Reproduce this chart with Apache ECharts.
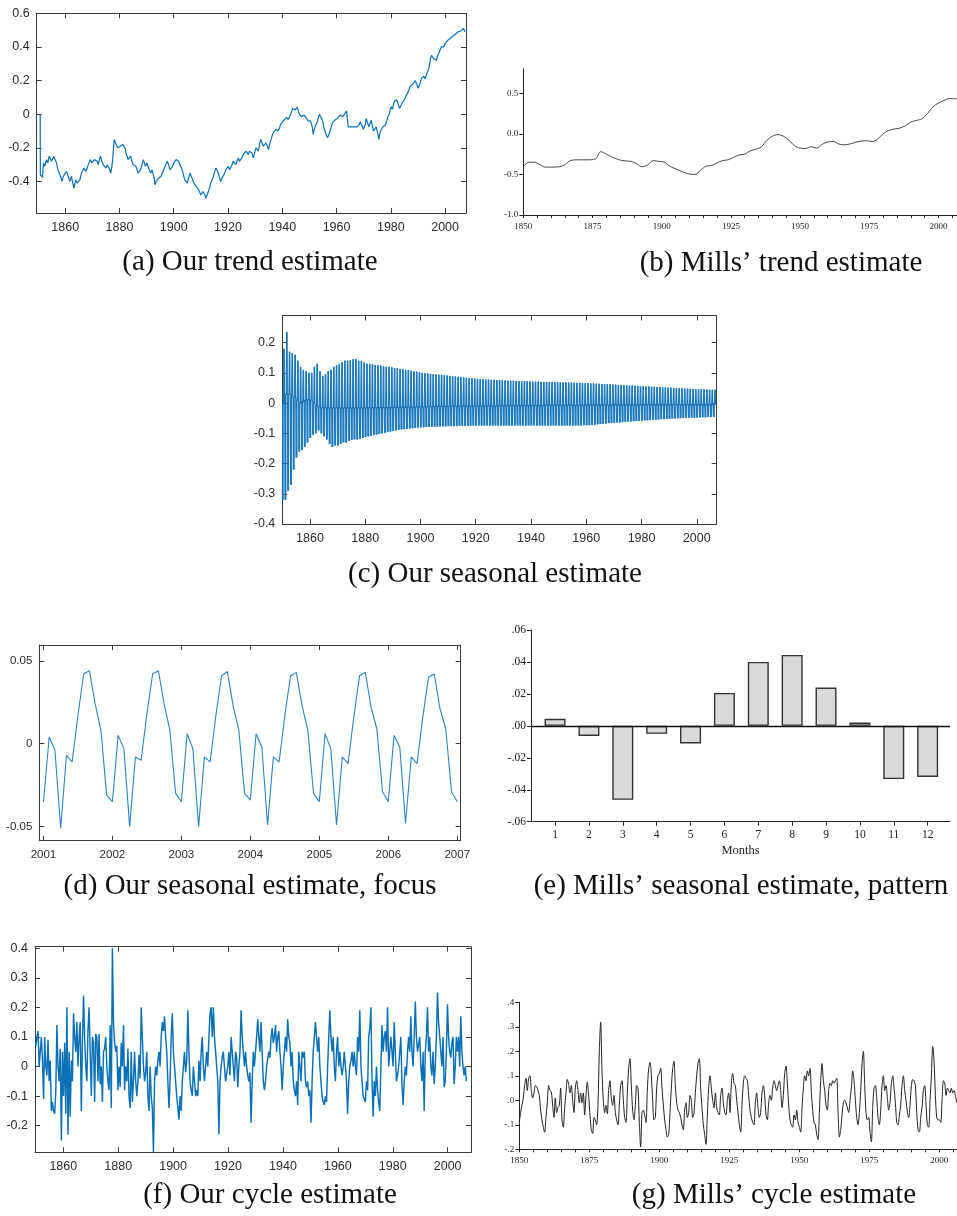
<!DOCTYPE html>
<html><head><meta charset="utf-8">
<script src="https://cdn.jsdelivr.net/npm/echarts@6/dist/echarts.min.js"></script>
<style>html,body{margin:0;padding:0;background:#fff}#c{width:957px;height:1216px}</style>
</head><body><div id="c"></div>
<script>
// ---------- (a) Our trend estimate ----------
const trendYears = [1850.78,1850.85,1851.27,1851.64,1852.0,1852.5,1853.1,1853.6,1854.1,1854.96,1855.8,1856.3,1856.8,1857.3,1857.8,1858.3,1858.8,1859.3,1859.9,1860.5,1861.1,1861.7,1862.3,1862.8,1863.2,1863.9,1864.4,1864.8,1865.4,1866.0,1866.5,1866.9,1867.6,1868.1,1868.5,1868.9,1869.3,1869.8,1870.3,1870.8,1871.3,1871.8,1872.2,1872.6,1873.0,1873.5,1874.0,1874.5,1875.0,1875.5,1875.9,1876.4,1876.8,1877.2,1877.5,1877.8,1878.1,1878.5,1878.9,1879.4,1879.9,1880.3,1880.8,1881.2,1881.6,1882.0,1882.4,1882.8,1883.2,1883.6,1884.1,1884.6,1885.1,1885.6,1886.1,1886.5,1886.9,1887.3,1887.8,1888.3,1888.8,1889.2,1889.6,1890.1,1890.6,1891.0,1891.5,1892.0,1892.4,1892.8,1893.1,1893.5,1893.9,1894.4,1894.9,1895.3,1895.8,1896.3,1896.8,1897.2,1897.6,1898.1,1898.6,1899.1,1899.6,1900.0,1900.4,1900.9,1901.3,1901.8,1902.3,1902.8,1903.3,1903.7,1904.1,1904.6,1905.0,1905.5,1906.0,1906.5,1907.0,1907.4,1907.8,1908.3,1908.7,1909.2,1909.7,1910.0,1910.4,1910.8,1911.1,1911.5,1911.9,1912.3,1912.7,1913.2,1913.6,1914.1,1914.6,1915.1,1915.6,1916.0,1916.4,1916.9,1917.3,1917.8,1918.3,1918.8,1919.2,1919.7,1920.1,1920.6,1921.0,1921.5,1921.9,1922.4,1922.9,1923.3,1923.8,1924.2,1924.7,1925.1,1925.6,1926.1,1926.6,1927.0,1927.5,1927.9,1928.3,1928.8,1929.3,1929.8,1930.3,1930.7,1931.2,1931.6,1932.0,1932.5,1933.0,1933.5,1934.0,1934.5,1934.9,1935.3,1935.7,1936.2,1936.7,1937.2,1937.7,1938.1,1938.5,1939.0,1939.4,1939.9,1940.4,1940.9,1941.4,1941.8,1942.2,1942.7,1943.1,1943.5,1943.8,1944.2,1944.7,1945.1,1945.5,1945.9,1946.3,1946.7,1947.1,1947.6,1948.0,1948.5,1949.0,1949.5,1950.0,1950.4,1950.8,1951.1,1951.4,1951.8,1952.1,1952.5,1952.9,1953.3,1953.7,1954.1,1954.5,1955.0,1955.4,1955.8,1956.1,1956.4,1956.7,1957.2,1957.6,1958.0,1958.5,1959.0,1959.4,1959.9,1960.3,1960.8,1961.3,1961.8,1962.3,1962.7,1963.1,1963.4,1963.7,1964.0,1964.3,1964.7,1965.0,1965.5,1966.0,1966.5,1967.0,1967.5,1967.9,1968.3,1968.7,1969.1,1969.5,1969.9,1970.3,1970.6,1970.9,1971.4,1971.9,1972.3,1972.8,1973.2,1973.6,1974.1,1974.6,1975.1,1975.6,1975.9,1976.2,1976.7,1977.1,1977.6,1978.0,1978.5,1978.9,1979.4,1979.8,1980.2,1980.6,1981.0,1981.4,1981.8,1982.2,1982.7,1983.2,1983.7,1984.1,1984.6,1985.1,1985.6,1986.1,1986.6,1987.1,1987.6,1988.1,1988.6,1989.0,1989.5,1990.0,1990.5,1990.9,1991.3,1991.8,1992.2,1992.7,1993.2,1993.6,1994.1,1994.6,1995.0,1995.4,1995.8,1996.3,1996.8,1997.2,1997.6,1998.1,1998.6,1999.0,1999.5,2000.0,2000.5,2001.0,2001.5,2001.9,2002.4,2002.9,2003.3,2003.8,2004.3,2004.8,2005.3,2005.8,2006.3,2006.8,2007.3];
const trendVals = [0.0,-0.36,-0.37,-0.375,-0.29,-0.31,-0.27,-0.29,-0.25,-0.28,-0.25,-0.27,-0.29,-0.33,-0.35,-0.37,-0.40,-0.37,-0.36,-0.34,-0.37,-0.40,-0.37,-0.41,-0.44,-0.39,-0.41,-0.42,-0.39,-0.35,-0.34,-0.32,-0.34,-0.32,-0.30,-0.29,-0.27,-0.29,-0.28,-0.27,-0.26,-0.28,-0.30,-0.27,-0.25,-0.28,-0.30,-0.31,-0.32,-0.30,-0.31,-0.33,-0.35,-0.31,-0.27,-0.20,-0.15,-0.17,-0.18,-0.20,-0.21,-0.19,-0.20,-0.18,-0.17,-0.20,-0.23,-0.25,-0.27,-0.26,-0.25,-0.28,-0.30,-0.29,-0.31,-0.33,-0.35,-0.34,-0.33,-0.30,-0.27,-0.29,-0.31,-0.29,-0.30,-0.33,-0.35,-0.33,-0.32,-0.38,-0.42,-0.40,-0.40,-0.38,-0.39,-0.37,-0.35,-0.33,-0.31,-0.30,-0.28,-0.30,-0.33,-0.32,-0.31,-0.29,-0.28,-0.27,-0.26,-0.28,-0.29,-0.32,-0.34,-0.37,-0.39,-0.40,-0.41,-0.38,-0.35,-0.37,-0.39,-0.41,-0.42,-0.43,-0.44,-0.45,-0.46,-0.48,-0.49,-0.46,-0.45,-0.48,-0.50,-0.48,-0.47,-0.44,-0.41,-0.39,-0.37,-0.34,-0.32,-0.33,-0.35,-0.38,-0.40,-0.38,-0.37,-0.35,-0.33,-0.32,-0.31,-0.33,-0.32,-0.30,-0.28,-0.29,-0.30,-0.28,-0.26,-0.28,-0.29,-0.26,-0.24,-0.23,-0.22,-0.23,-0.24,-0.22,-0.21,-0.23,-0.26,-0.23,-0.20,-0.21,-0.22,-0.18,-0.15,-0.17,-0.19,-0.18,-0.17,-0.19,-0.21,-0.18,-0.16,-0.13,-0.11,-0.10,-0.09,-0.09,-0.10,-0.08,-0.06,-0.05,-0.04,-0.03,-0.02,-0.025,-0.03,-0.015,0.0,0.02,0.035,0.03,0.025,0.03,0.04,0.02,0.0,-0.01,-0.015,-0.01,-0.005,-0.015,-0.025,-0.04,-0.05,-0.04,-0.035,-0.08,-0.12,-0.09,-0.075,-0.06,-0.045,-0.02,0.0,-0.01,-0.025,-0.05,-0.085,-0.10,-0.12,-0.13,-0.14,-0.12,-0.10,-0.08,-0.05,-0.04,-0.035,-0.03,-0.025,-0.015,-0.005,-0.01,-0.015,-0.005,0.005,0.015,0.02,-0.03,-0.075,-0.07,-0.065,-0.075,-0.085,-0.075,-0.065,-0.075,-0.085,-0.065,-0.045,-0.06,-0.075,-0.09,-0.10,-0.06,-0.025,-0.05,-0.075,-0.055,-0.035,-0.07,-0.10,-0.09,-0.075,-0.11,-0.15,-0.12,-0.10,-0.09,-0.075,-0.07,-0.065,-0.04,-0.015,0.0,0.03,0.045,0.03,0.06,0.08,0.07,0.085,0.06,0.035,0.05,0.065,0.075,0.09,0.11,0.115,0.14,0.165,0.17,0.18,0.19,0.20,0.18,0.155,0.17,0.19,0.215,0.22,0.225,0.21,0.24,0.255,0.28,0.33,0.35,0.34,0.33,0.34,0.32,0.345,0.36,0.38,0.40,0.41,0.40,0.42,0.43,0.44,0.445,0.45,0.46,0.465,0.47,0.475,0.48,0.49,0.485,0.495,0.50,0.51,0.49];

// ---------- (b) Mills' trend estimate ----------
const millsTrendYears = [1850,1852,1854,1856,1858,1860,1863,1865,1867,1870,1873,1876,1878,1880,1883,1886,1889,1891,1893,1895,1897,1899,1901,1903,1906,1908,1910,1912,1914,1916,1918,1920,1922,1924,1926,1928,1930,1932,1934,1936,1938,1940,1942,1944,1946,1948,1950,1952,1954,1956,1958,1960,1962,1964,1966,1968,1970,1972,1974,1976,1978,1980,1982,1984,1986,1988,1990,1992,1994,1996,1998,2000,2002,2004,2006.7];
const millsTrendVals = [-0.405,-0.35,-0.35,-0.38,-0.41,-0.41,-0.405,-0.38,-0.33,-0.32,-0.32,-0.31,-0.22,-0.25,-0.30,-0.33,-0.34,-0.37,-0.405,-0.38,-0.33,-0.34,-0.35,-0.40,-0.445,-0.475,-0.495,-0.50,-0.45,-0.40,-0.39,-0.36,-0.33,-0.32,-0.29,-0.26,-0.25,-0.21,-0.19,-0.16,-0.08,-0.03,-0.01,-0.03,-0.08,-0.145,-0.175,-0.18,-0.16,-0.175,-0.13,-0.10,-0.095,-0.125,-0.135,-0.125,-0.105,-0.09,-0.085,-0.095,-0.065,0.0,0.04,0.06,0.07,0.10,0.145,0.165,0.185,0.25,0.33,0.38,0.41,0.435,0.43];

// ---------- (c) Our seasonal estimate: yearly high / low / centre, 1850..2006 ----------
const seasFirstYear = 1850;
const seasHi = [0.18,0.235,0.17,0.165,0.16,0.14,0.12,0.11,0.105,0.10,
0.10,0.12,0.13,0.105,0.09,0.095,0.105,0.11,0.12,0.125,
0.13,0.135,0.14,0.14,0.142,0.145,0.145,0.14,0.14,0.135,
0.13,0.13,0.128,0.126,0.125,0.124,0.122,0.12,0.12,0.118,
0.116,0.115,0.113,0.112,0.11,0.109,0.107,0.105,0.104,0.102,
0.10,0.099,0.098,0.097,0.096,0.095,0.094,0.093,0.092,0.091,
0.09,0.089,0.088,0.087,0.086,0.085,0.084,0.083,0.082,0.081,
0.08,0.079,0.079,0.078,0.078,0.077,0.077,0.076,0.076,0.075,
0.075,0.074,0.074,0.074,0.073,0.073,0.073,0.072,0.072,0.072,
0.071,0.071,0.071,0.07,0.07,0.07,0.07,0.069,0.069,0.069,
0.069,0.068,0.068,0.068,0.068,0.067,0.067,0.067,0.066,0.066,
0.066,0.065,0.065,0.064,0.064,0.063,0.063,0.062,0.062,0.061,
0.061,0.06,0.06,0.059,0.059,0.058,0.058,0.057,0.057,0.056,
0.056,0.055,0.055,0.054,0.054,0.053,0.053,0.052,0.052,0.051,
0.051,0.05,0.05,0.049,0.049,0.048,0.048,0.047,0.047,0.046,
0.046,0.046,0.045,0.045,0.045,0.044,0.044];
const seasLo = [-0.32,-0.32,-0.29,-0.27,-0.22,-0.18,-0.16,-0.155,-0.145,-0.13,
-0.115,-0.105,-0.10,-0.09,-0.10,-0.11,-0.12,-0.135,-0.145,-0.14,
-0.14,-0.135,-0.13,-0.13,-0.125,-0.122,-0.12,-0.12,-0.118,-0.115,
-0.112,-0.11,-0.108,-0.106,-0.104,-0.102,-0.10,-0.098,-0.096,-0.094,
-0.092,-0.09,-0.088,-0.087,-0.086,-0.085,-0.084,-0.083,-0.082,-0.081,
-0.08,-0.08,-0.079,-0.079,-0.078,-0.078,-0.078,-0.077,-0.077,-0.077,
-0.076,-0.076,-0.076,-0.076,-0.075,-0.075,-0.075,-0.075,-0.075,-0.074,
-0.074,-0.074,-0.074,-0.074,-0.074,-0.074,-0.074,-0.074,-0.074,-0.074,
-0.074,-0.074,-0.074,-0.074,-0.074,-0.074,-0.074,-0.074,-0.074,-0.074,
-0.074,-0.074,-0.074,-0.074,-0.074,-0.074,-0.074,-0.074,-0.074,-0.074,
-0.074,-0.074,-0.074,-0.074,-0.074,-0.074,-0.074,-0.074,-0.074,-0.073,
-0.073,-0.073,-0.072,-0.071,-0.07,-0.069,-0.068,-0.067,-0.066,-0.066,
-0.065,-0.064,-0.064,-0.063,-0.062,-0.061,-0.061,-0.06,-0.059,-0.059,
-0.058,-0.057,-0.057,-0.056,-0.055,-0.055,-0.054,-0.053,-0.053,-0.052,
-0.052,-0.051,-0.051,-0.05,-0.05,-0.049,-0.049,-0.049,-0.048,-0.048,
-0.048,-0.047,-0.047,-0.047,-0.046,-0.046,-0.046];
const seasMid = [0.0,0.03,0.03,0.025,0.02,0.01,0.0,0.005,0.01,0.012,
0.01,0.0,-0.008,-0.012,-0.015,-0.015,-0.016,-0.016,-0.016,-0.016,
-0.016,-0.016,-0.016,-0.016,-0.016,-0.016,-0.016,-0.016,-0.016,-0.016,
-0.015,-0.015,-0.015,-0.015,-0.015,-0.015,-0.015,-0.015,-0.015,-0.015,
-0.014,-0.014,-0.014,-0.014,-0.014,-0.013,-0.013,-0.013,-0.013,-0.013,
-0.012,-0.012,-0.012,-0.012,-0.012,-0.011,-0.011,-0.011,-0.011,-0.011,
-0.01,-0.01,-0.01,-0.01,-0.01,-0.01,-0.01,-0.01,-0.01,-0.01,
-0.009,-0.009,-0.009,-0.009,-0.009,-0.009,-0.009,-0.009,-0.009,-0.009,
-0.008,-0.008,-0.008,-0.008,-0.008,-0.008,-0.008,-0.008,-0.008,-0.008,
-0.008,-0.008,-0.008,-0.008,-0.008,-0.007,-0.007,-0.007,-0.007,-0.007,
-0.007,-0.007,-0.007,-0.007,-0.007,-0.007,-0.007,-0.007,-0.007,-0.007,
-0.006,-0.006,-0.006,-0.006,-0.006,-0.006,-0.006,-0.006,-0.006,-0.006,
-0.006,-0.006,-0.006,-0.006,-0.006,-0.006,-0.006,-0.006,-0.006,-0.006,
-0.005,-0.005,-0.005,-0.005,-0.005,-0.005,-0.005,-0.005,-0.005,-0.005,
-0.005,-0.005,-0.005,-0.005,-0.005,-0.005,-0.005,-0.005,-0.005,-0.005,
-0.005,-0.005,-0.005,-0.005,-0.005,-0.005,-0.005];

// ---------- (d) Our seasonal estimate, focus (monthly, Jan 2001 .. Jan 2007) ----------
const focusStart = 2001;
const focusVals = [
-0.035,0.004,-0.004,-0.051,-0.007,-0.011,0.017,0.042,0.044,0.024,0.008,-0.031,
-0.035,0.005,-0.003,-0.050,-0.008,-0.010,0.018,0.042,0.044,0.024,0.008,-0.030,
-0.035,0.006,-0.003,-0.050,-0.008,-0.011,0.017,0.041,0.0435,0.023,0.008,-0.030,
-0.034,0.006,-0.002,-0.049,-0.008,-0.011,0.017,0.041,0.043,0.023,0.008,-0.030,
-0.035,0.006,-0.003,-0.049,-0.008,-0.012,0.016,0.041,0.043,0.022,0.009,-0.029,
-0.035,0.005,-0.002,-0.048,-0.008,-0.012,0.016,0.040,0.042,0.021,0.009,-0.029,
-0.035];

// ---------- (e) Mills' seasonal pattern ----------
const months = [1,2,3,4,5,6,7,8,9,10,11,12];
const millsSeas = [0.0044,-0.0063,-0.0463,-0.005,-0.011,0.0206,0.040,0.0444,0.024,0.0021,-0.0333,-0.032];

// ---------- (f) Our cycle estimate ----------
const cycleStart = 1850.0, cycleEnd = 2006.8;
const cycleVals = [
0.07,0.1,0.12,0.0,0.05,0.1,0.02,-0.11,0.1,0.0,
-0.03,0.09,-0.05,0.02,-0.15,-0.12,-0.15,-0.16,-0.08,0.14,
0.0,-0.05,0.06,-0.25,0.05,-0.1,0.08,-0.16,0.2,-0.23,
0.05,-0.17,0.02,-0.05,0.18,0.1,0.05,0.15,0.0,0.1,
0.15,-0.15,0.08,0.24,0.1,0.0,-0.05,0.12,0.2,0.05,
-0.1,0.1,0.08,-0.12,0.11,0.1,-0.05,0.11,-0.06,0.0,
-0.12,0.05,0.06,0.1,0.0,-0.05,-0.08,0.14,-0.14,0.4,
0.15,0.08,0.05,0.07,-0.08,0.0,-0.07,0.08,0.0,0.14,
-0.08,0.0,-0.05,0.06,-0.1,-0.14,0.05,-0.12,-0.05,0.05,
-0.05,-0.1,-0.05,0.04,-0.04,0.2,0.1,0.0,-0.05,-0.02,
0.05,-0.1,-0.15,0.0,-0.1,-0.14,-0.29,-0.05,0.0,-0.03,
0.02,0.05,0.0,0.1,0.15,0.12,0.17,0.1,0.05,-0.05,
-0.14,-0.05,0.1,0.18,0.05,0.0,-0.05,-0.1,-0.1,-0.18,
-0.1,-0.15,-0.05,0.0,0.05,-0.02,0.02,0.19,0.05,-0.05,
-0.08,-0.1,0.0,-0.05,-0.1,-0.08,-0.1,0.02,-0.05,0.05,
0.1,0.0,-0.05,0.0,0.05,0.0,0.1,0.18,0.2,0.1,
0.2,0.1,0.05,0.0,-0.05,-0.23,-0.05,0.0,0.03,0.05,
0.0,-0.05,-0.05,0.0,0.05,-0.03,0.1,0.05,0.0,-0.05,
0.05,0.03,-0.07,0.0,0.05,0.19,0.1,0.05,0.0,0.05,
0.0,-0.03,-0.05,-0.02,-0.19,-0.05,0.05,0.0,0.05,0.1,
0.16,0.1,0.05,0.15,0.05,-0.05,-0.08,-0.05,0.0,0.0,
0.05,0.03,0.1,0.13,0.08,0.1,0.14,0.05,0.1,0.12,
0.05,0.0,-0.08,0.0,0.05,0.1,0.05,0.16,0.1,0.08,
0.0,0.05,-0.05,-0.08,-0.1,-0.05,-0.13,0.05,0.0,-0.05,
0.05,0.03,0.05,-0.05,-0.07,-0.05,-0.1,-0.08,-0.19,-0.05,
0.05,0.1,0.15,0.1,0.05,0.1,0.0,-0.05,-0.1,-0.12,
-0.13,-0.1,-0.12,0.0,0.1,0.19,0.1,0.05,0.1,0.0,
-0.05,0.05,0.1,0.0,0.05,0.0,-0.03,0.0,0.05,0.0,
-0.05,-0.16,-0.05,0.0,0.02,0.05,0.0,0.05,0.0,-0.03,
0.1,0.05,0.19,0.0,-0.05,-0.1,-0.1,-0.12,-0.05,-0.08,
0.1,0.13,0.2,-0.05,-0.17,-0.05,-0.1,0.0,-0.08,-0.12,
-0.15,0.0,0.14,0.05,0.1,0.12,0.05,0.2,0.0,0.05,
0.1,0.05,0.0,0.15,0.05,-0.05,-0.03,0.0,0.05,0.1,
-0.06,-0.13,-0.05,0.0,-0.03,0.05,0.1,0.05,0.17,0.05,
0.0,0.1,0.22,0.1,0.05,0.05,0.1,0.0,-0.05,0.05,
-0.15,0.05,0.1,0.2,0.05,0.1,0.0,-0.03,0.05,-0.06,
0.0,0.1,0.25,0.15,0.1,0.05,0.0,0.1,-0.07,-0.05,
0.05,0.21,0.1,0.05,0.03,0.08,0.1,-0.06,0.0,0.1,
0.05,0.1,0.0,0.17,0.05,0.0,-0.03,0.0,-0.05];

// ---------- (g) Mills' cycle estimate ----------
const millsCycleStart = 1850.0, millsCycleEnd = 2006.2;
const millsCycleVals = [
-0.09,-0.05,-0.02,0.01,0.06,0.09,0.04,0.09,0.1,0.04,
0.01,0.03,0.06,0.055,0.04,0.02,-0.04,-0.08,-0.11,-0.13,
-0.07,-0.01,0.06,0.04,0.035,-0.02,-0.07,0.01,-0.05,-0.03,
-0.02,0.05,-0.08,-0.11,-0.03,0.03,0.085,0.065,0.03,0.06,
0.0,-0.05,0.05,0.08,0.04,-0.01,0.03,-0.01,0.03,-0.06,
0.02,0.075,0.02,-0.06,-0.12,-0.135,-0.07,-0.08,-0.1,-0.02,
0.2,0.32,0.12,0.0,-0.05,-0.02,-0.055,0.04,0.08,0.01,
-0.02,0.02,-0.05,-0.08,-0.1,-0.02,0.06,0.08,0.0,-0.07,
-0.09,0.03,0.13,0.17,0.06,-0.04,-0.08,-0.02,0.06,0.05,
-0.09,-0.19,-0.05,-0.04,-0.06,-0.09,0.04,0.13,0.155,0.1,
0.0,-0.08,-0.07,0.05,0.1,0.11,0.13,0.05,-0.02,-0.08,
-0.12,-0.15,-0.14,-0.05,0.05,0.13,0.16,0.06,-0.01,-0.04,
-0.05,-0.07,-0.1,-0.12,-0.04,-0.01,-0.07,-0.05,0.02,0.0,
-0.07,-0.05,0.03,0.1,0.15,0.17,0.05,-0.03,-0.1,-0.14,
-0.18,-0.06,0.05,0.1,0.05,0.0,-0.03,0.03,-0.03,-0.05,
-0.06,0.02,0.05,-0.01,-0.05,-0.06,0.0,0.03,-0.05,0.07,
0.11,0.07,0.06,0.0,-0.05,-0.1,-0.13,-0.02,0.07,0.1,
0.09,0.08,0.02,-0.04,-0.07,-0.09,-0.1,-0.01,0.03,-0.03,
-0.07,-0.05,0.03,0.06,0.02,-0.06,-0.08,-0.01,0.02,0.0,
0.05,0.08,0.06,0.04,0.06,0.08,0.04,-0.03,0.02,0.11,
0.14,0.07,-0.02,-0.08,-0.1,-0.11,-0.06,-0.08,-0.04,-0.09,
-0.11,-0.13,-0.03,0.05,0.1,0.08,0.12,0.1,0.13,0.03,
-0.04,-0.09,-0.1,-0.14,-0.16,-0.05,0.08,0.15,0.08,0.04,
-0.02,-0.04,0.04,0.07,0.06,0.08,0.07,0.08,0.09,-0.04,
-0.15,-0.12,-0.06,-0.01,0.0,-0.01,-0.03,-0.05,0.0,0.05,
0.12,0.08,0.0,-0.07,-0.1,-0.05,0.04,0.15,0.2,0.06,
-0.05,-0.08,-0.07,-0.13,-0.17,-0.03,0.05,0.06,0.01,-0.07,
-0.1,-0.04,0.06,0.1,0.04,0.06,0.01,-0.04,-0.01,0.07,
0.1,0.05,-0.01,-0.09,-0.1,-0.06,-0.02,0.06,0.1,0.04,
0.0,-0.05,-0.07,-0.02,0.06,0.085,0.08,0.06,-0.05,-0.12,
-0.13,-0.07,-0.03,0.04,0.06,-0.02,-0.1,-0.11,0.0,0.1,
0.22,0.16,0.02,-0.07,-0.08,-0.08,-0.09,0.0,0.08,0.07,
0.02,0.05,0.04,0.03,0.05,0.03,0.04,0.02,-0.01];

// ---------- tick values ----------
const yearTicks20 = [1860,1880,1900,1920,1940,1960,1980,2000];
const yearTicks25 = [1850,1875,1900,1925,1950,1975,2000];
const yearTicks5 = [1850,1855,1860,1865,1870,1875,1880,1885,1890,1895,1900,1905,1910,1915,1920,1925,1930,1935,1940,1945,1950,1955,1960,1965,1970,1975,1980,1985,1990,1995,2000,2005];
const trendYTicks = [-0.4,-0.2,0,0.2,0.4,0.6];
const seasYTicks = [-0.4,-0.3,-0.2,-0.1,0,0.1,0.2];
const focusXTicks = [2001,2002,2003,2004,2005,2006,2007];
const focusYTicks = [-0.05,0,0.05];
const millsTrendYTicks = [-1.0,-0.5,0.0,0.5];
const millsSeasYTicks = [-0.06,-0.04,-0.02,0,0.02,0.04,0.06];
const cycleYTicks = [-0.2,-0.1,0,0.1,0.2,0.3,0.4];
const millsCycleYTicks = [-0.2,-0.1,0,0.1,0.2,0.3,0.4];

const captions = [
  ['(a) Our trend estimate', 250, 262],
  ['(b) Mills\u2019 trend estimate', 781, 263],
  ['(c) Our seasonal estimate', 495, 574],
  ['(d) Our seasonal estimate, focus', 250, 886],
  ['(e) Mills\u2019 seasonal estimate, pattern', 741, 886],
  ['(f) Our cycle estimate', 270, 1195],
  ['(g) Mills\u2019 cycle estimate', 774, 1195]
];

// ================= build =================
const FRAME = '#3a3a3a', LBL = '#2b2b2b', BLUE = '#0a71b6';
const SANS = 'Liberation Sans, Arial, sans-serif';
const SERIF = 'Liberation Serif, Times New Roman, serif';
const grids = [], xAxes = [], yAxes = [], series = [];
const fmtNum = v => String(Math.round(v * 1000) / 1000);

function addGrid(b) {
  grids.push({left: b[0], top: b[1], width: b[2], height: b[3], containLabel: false, outerBoundsMode: 'none'});
  return grids.length - 1;
}
function matlabPanel(b, xr, xt, yr, yt, fs) {
  const g = addGrid(b);
  const ls = {color: FRAME, width: 1};
  const tk = vals => ({show: true, inside: true, length: 5, customValues: vals, lineStyle: ls});
  const common = {gridIndex: g, type: 'value', splitLine: {show: false}, axisLine: {show: true, onZero: false, lineStyle: ls}};
  xAxes.push(Object.assign({}, common, {min: xr[0], max: xr[1], position: 'bottom', axisTick: tk(xt),
    axisLabel: {show: true, customValues: xt, color: LBL, fontSize: fs, fontFamily: SANS, margin: 8, formatter: v => String(v)}}));
  const xi = xAxes.length - 1;
  xAxes.push(Object.assign({}, common, {min: xr[0], max: xr[1], position: 'top', axisTick: tk(xt), axisLabel: {show: false}}));
  yAxes.push(Object.assign({}, common, {min: yr[0], max: yr[1], position: 'left', axisTick: tk(yt),
    axisLabel: {show: true, customValues: yt, color: LBL, fontSize: fs, fontFamily: SANS, margin: 7, formatter: fmtNum}}));
  const yi = yAxes.length - 1;
  yAxes.push(Object.assign({}, common, {min: yr[0], max: yr[1], position: 'right', axisTick: tk(yt), axisLabel: {show: false}}));
  return {xi, yi};
}
function millsPanel(b, xr, xl, xt, yr, yt, fs, yfmt) {
  const g = addGrid(b);
  const ls = {color: '#222', width: 1};
  xAxes.push({gridIndex: g, type: 'value', min: xr[0], max: xr[1], position: 'bottom', splitLine: {show: false},
    axisLine: {show: true, onZero: false, lineStyle: ls},
    axisTick: {show: true, inside: false, length: 3, customValues: xt, lineStyle: ls},
    axisLabel: {show: true, customValues: xl, color: '#222', fontSize: fs, fontFamily: SERIF, margin: 7, formatter: v => String(v)}});
  const xi = xAxes.length - 1;
  yAxes.push({gridIndex: g, type: 'value', min: yr[0], max: yr[1], position: 'left', splitLine: {show: false},
    axisLine: {show: true, onZero: false, lineStyle: ls},
    axisTick: {show: true, inside: false, length: 4, customValues: yt, lineStyle: ls},
    axisLabel: {show: true, customValues: yt, color: '#222', fontSize: fs, fontFamily: SERIF, margin: 5, formatter: yfmt}});
  const yi = yAxes.length - 1;
  return {xi, yi, g};
}
function lineSeries(ax, data, color, width, extra) {
  series.push(Object.assign({type: 'line', xAxisIndex: ax.xi, yAxisIndex: ax.yi, data: data, showSymbol: false, symbol: 'none',
    lineStyle: {color: color, width: width}, itemStyle: {color: color}, animation: false, clip: true}, extra || {}));
}

// (a)
const axA = matlabPanel([36.7, 13.3, 429.3, 199.7], [1849.5, 2007.7], yearTicks20, [-0.5875, 0.6], trendYTicks, 12.5);
lineSeries(axA, trendYears.map((y, i) => [y, trendVals[i]]), BLUE, 1.2);

// (b)
const axB = millsPanel([523.3, 68.9, 433.7, 146.1], [1850, 2006.7], yearTicks25, yearTicks5, [-1.0, 0.8], millsTrendYTicks, 9, v => v.toFixed(1));
lineSeries(axB, millsTrendYears.map((y, i) => [y, millsTrendVals[i]]), '#333', 0.9, {smooth: 0.4});

// (c) each year: winter dip, spring dip, summer high, built from the yearly readings
const axC = matlabPanel([282.3, 315.5, 434.4, 208.5], [1850, 2007.2], yearTicks20, [-0.4, 0.29], seasYTicks, 12.5);
const seasData = [];
seasHi.forEach((hi, i) => {
  const y = seasFirstYear + i, lo = seasLo[i], m = seasMid[i];
  seasData.push([y + 0.0, lo], [y + 0.1, m], [y + 0.18, m], [y + 0.27, lo], [y + 0.36, m], [y + 0.44, m],
                [y + 0.56, hi], [y + 0.64, m], [y + 0.7, hi], [y + 0.84, m]);
});
lineSeries(axC, seasData, '#1a78bd', 0.95);
lineSeries(axC, seasMid.map((m, i) => [seasFirstYear + i + 0.5, m]), '#0c5c9e', 1.2, {smooth: 0.5, lineStyle: {color: '#0c5c9e', width: 1.2, opacity: 0.55}});

// (d)
const axD = matlabPanel([39.3, 645, 421.4, 195.7], [2000.94, 2007.05], focusXTicks, [-0.0585, 0.0595], focusYTicks, 11.5);
lineSeries(axD, focusVals.map((v, i) => [focusStart + i / 12, v]), '#2a84c6', 1.1);

// (e)
const axE = millsPanel([531, 630, 419, 191.7], [0.29, 12.66], months, months, [-0.06, 0.06], millsSeasYTicks, 11.5,
  v => (v < 0 ? '-' : '') + '.' + String(Math.round(Math.abs(v) * 100)).padStart(2, '0'));
xAxes[axE.xi].name = 'Months';
xAxes[axE.xi].nameLocation = 'middle';
xAxes[axE.xi].nameGap = 23;
xAxes[axE.xi].nameTextStyle = {fontFamily: SERIF, fontSize: 12.5, color: '#222'};
xAxes[axE.xi].axisTick.length = 4;
series.push({type: 'bar', xAxisIndex: axE.xi, yAxisIndex: axE.yi, barWidth: 21, animation: false,
  data: months.map((m, i) => [m, millsSeas[i]]),
  itemStyle: {color: '#dadada', borderColor: '#333', borderWidth: 1.4},
  markLine: {silent: true, symbol: 'none', animation: false, label: {show: false},
    lineStyle: {color: '#111', width: 1.3, type: 'solid'}, data: [{yAxis: 0}]}});

// (f)
const axF = matlabPanel([35, 946.7, 436, 205.6], [1849.7, 2008.5], yearTicks20, [-0.29, 0.405], cycleYTicks, 12.5);
const cStep = (cycleEnd - cycleStart) / (cycleVals.length - 1);
lineSeries(axF, cycleVals.map((v, i) => [cycleStart + i * cStep, v]), BLUE, 1.45);

// (g)
const axG = millsPanel([519.3, 1002.3, 437.7, 147], [1850, 2006.3], yearTicks25, yearTicks5, [-0.2, 0.4], millsCycleYTicks, 9,
  v => { const r = Math.round(v * 10); return (r < 0 ? '-' : '') + '.' + Math.abs(r); });
const gStep = (millsCycleEnd - millsCycleStart) / (millsCycleVals.length - 1);
lineSeries(axG, millsCycleVals.map((v, i) => [millsCycleStart + i * gStep, v]), '#222', 1, {smooth: 0.3});

const graphics = captions.map(c => ({type: 'text', silent: true, x: c[1], y: c[2],
  style: {text: c[0], fill: '#111', fontSize: 29, fontFamily: SERIF, textAlign: 'center', align: 'center', textVerticalAlign: 'middle', verticalAlign: 'middle'}}));

const chart = echarts.init(document.getElementById('c'), null, {renderer: 'canvas'});
chart.setOption({animation: false, backgroundColor: '#fff', grid: grids, xAxis: xAxes, yAxis: yAxes, series: series, graphic: graphics});
</script></body></html>
